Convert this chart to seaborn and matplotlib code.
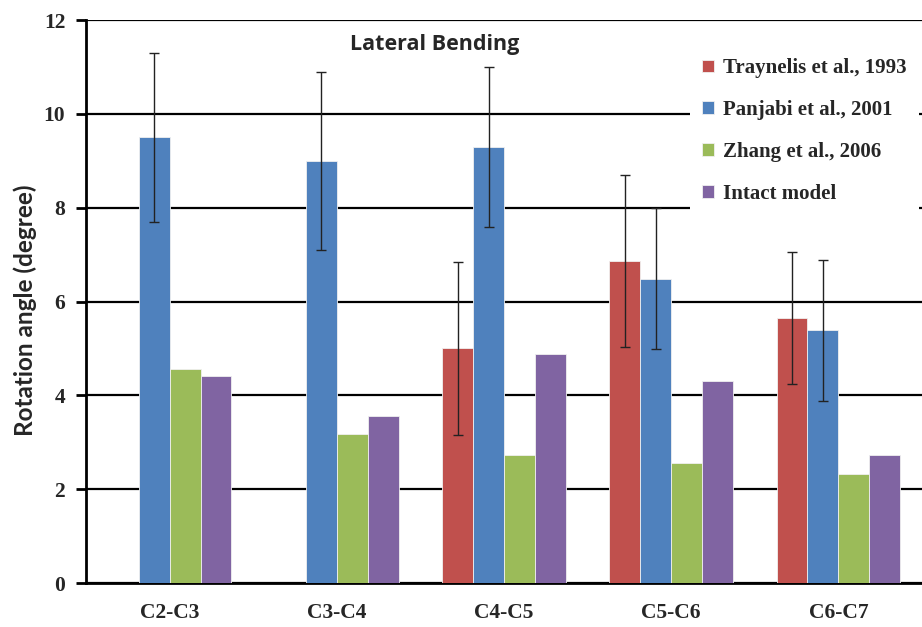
import numpy as np
import pandas as pd
import matplotlib
matplotlib.use("Agg")
import matplotlib.pyplot as plt
import seaborn as sns

levels = ["C2-C3", "C3-C4", "C4-C5", "C5-C6", "C6-C7"]
studies = ["Traynelis et al., 1993", "Panjabi et al., 2001", "Zhang et al., 2006", "Intact model"]
traynelis = [np.nan, np.nan, 5.02, 6.87, 5.64]
traynelis_lo = [np.nan, np.nan, 3.16, 5.03, 4.25]
traynelis_hi = [np.nan, np.nan, 6.84, 8.70, 7.05]
panjabi = [9.5, 9.0, 9.3, 6.49, 5.39]
panjabi_lo = [7.7, 7.1, 7.6, 4.98, 3.89]
panjabi_hi = [11.3, 10.9, 11.0, 8.0, 6.88]
zhang = [4.57, 3.18, 2.74, 2.55, 2.32]
intact = [4.41, 3.56, 4.89, 4.30, 2.74]
colors = ["#C0504D", "#4F81BD", "#9BBB59", "#8064A2"]

rows = []
for s, vals in zip(studies, [traynelis, panjabi, zhang, intact]):
    for lev, v in zip(levels, vals):
        rows.append({"level": lev, "study": s, "angle": v})
df = pd.DataFrame(rows)

sns.set_style("white")
fig = plt.figure(figsize=(9.22, 6.27), dpi=100)
ax = fig.add_axes([0.0933, 0.070, 0.9067, 0.898])
sns.barplot(data=df, x="level", y="angle", hue="study", hue_order=studies,
            order=levels, palette=colors, saturation=1, width=0.74, edgecolor="#f0f0f0",
            linewidth=0.6, errorbar=None, ax=ax, zorder=3)

# error bars, only for the two experimental studies (NaN bars are dropped by seaborn)
err_sets = {0: (traynelis, traynelis_lo, traynelis_hi), 1: (panjabi, panjabi_lo, panjabi_hi)}
for ci, (vals, lo, hi) in err_sets.items():
    keep = [i for i, v in enumerate(vals) if not np.isnan(v)]
    for bar, i in zip(ax.containers[ci], keep):
        v = vals[i]
        xc = bar.get_x() + bar.get_width() / 2
        ax.errorbar(xc, v, yerr=[[v - lo[i]], [hi[i] - v]], fmt="none", ecolor="#222222",
                    elinewidth=1, capsize=3.5, capthick=1, zorder=4)

ax.set_ylim(0, 12)
ax.set_xlim(-0.5, 4.5)
ax.set_yticks(range(0, 13, 2))
ax.yaxis.grid(True, color="black", linewidth=1.6, zorder=0)
ax.set_axisbelow(True)
for sp in ["top", "right"]:
    ax.spines[sp].set_visible(False)
for sp in ["left", "bottom"]:
    ax.spines[sp].set_color("black")
    ax.spines[sp].set_linewidth(2)

ax.set_xticks(np.arange(-0.5, 5, 1), minor=True)
ax.tick_params(axis="x", which="major", length=0, pad=14)
ax.tick_params(axis="x", which="minor", length=7, width=2, direction="out", color="black")
ax.tick_params(axis="y", length=7, width=2, direction="out", color="black", pad=8, left=True)

for lab in ax.get_xticklabels() + ax.get_yticklabels():
    lab.set_fontfamily("Liberation Serif")
    lab.set_fontweight("bold")
    lab.set_fontsize(15.5)

ax.set_xlabel("")
ax.set_ylabel("Rotation angle (degree)", fontfamily="Lato", fontweight="bold",
              fontsize=17.5)
ax.yaxis.set_label_coords(-0.059, 0.485)
ax.text(0.417, 0.956, "Lateral Bending", transform=ax.transAxes, ha="center", va="center",
        fontfamily="Open Sans", fontweight="bold", fontsize=15.5)

handles, labels = ax.get_legend_handles_labels()
leg = ax.legend(handles, labels, loc="upper right", bbox_to_anchor=(1.009, 0.973),
                frameon=True, facecolor="white", edgecolor="none", framealpha=1,
                handlelength=0.55, handleheight=0.55, handletextpad=0.45,
                labelspacing=1.05, borderpad=0.6,
                prop={"family": "Liberation Serif", "weight": "bold", "size": 15})
leg.set_zorder(5)

fig.savefig("out.png", dpi=100)
